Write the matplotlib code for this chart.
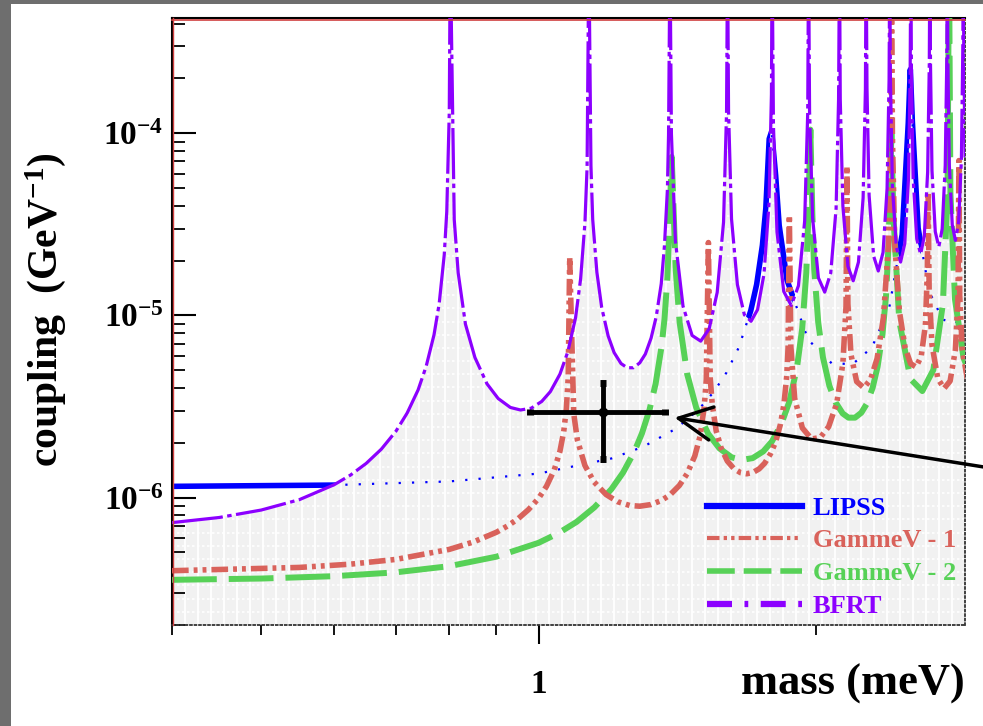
import numpy as np
import matplotlib
matplotlib.use("Agg")
import matplotlib.pyplot as plt
from matplotlib.lines import Line2D
from matplotlib.patches import Rectangle
from matplotlib.font_manager import FontProperties
from matplotlib.ticker import FixedLocator, FixedFormatter, NullFormatter

# mass in meV, coupling stored as log10(g / GeV^-1)
lipssMass = [0.40, 0.60, 0.80, 1.00, 1.20, 1.30, 1.40, 1.45, 1.50, 1.55, 1.60, 1.65, 1.70, 1.725, 1.75, 1.765, 1.78, 1.791,
             1.809, 1.825, 1.861, 1.962, 2.081, 2.193, 2.301, 2.403, 2.482, 2.520, 2.533,
             2.546, 2.583, 2.656, 2.746, 2.832, 2.888, 2.916]
lipssLogG = [-5.938, -5.931, -5.911, -5.868, -5.785, -5.720, -5.630, -5.572, -5.503, -5.419, -5.313, -5.175, -4.973, -4.830, -4.615, -4.412, -4.031, -3.99,
             -4.232, -4.506, -4.806, -5.133, -5.263, -5.267, -5.176, -4.957, -4.556, -3.944, -3.65,
             -3.936, -4.521, -4.870, -5.022, -5.045, -5.006, -4.970]

gammev1Mass = [0.40, 0.55, 0.625, 0.70, 0.80, 0.85, 0.90, 0.925, 0.95, 0.975, 1.00, 1.02, 1.04, 1.055, 1.065, 1.072, 1.077, 1.081,
               1.092, 1.102, 1.123, 1.149, 1.184, 1.218, 1.256, 1.288, 1.324, 1.359, 1.389, 1.422, 1.450, 1.478, 1.498, 1.513, 1.521, 1.529,
               1.536, 1.544, 1.559, 1.578, 1.603, 1.629, 1.657, 1.682, 1.709, 1.736, 1.760, 1.786, 1.809, 1.831, 1.847, 1.860, 1.866, 1.872,
               1.879, 1.897, 1.934, 1.979, 2.022, 2.065, 2.107, 2.140, 2.157, 2.162,
               2.167, 2.184, 2.215, 2.255, 2.293, 2.331, 2.368, 2.398, 2.412, 2.417,
               2.422, 2.436, 2.465, 2.500, 2.535, 2.570, 2.603, 2.630, 2.643, 2.648,
               2.655, 2.674, 2.713, 2.756, 2.798, 2.835, 2.854, 2.860,
               2.866, 2.884, 2.921]
gammev1LogG = [-6.401, -6.383, -6.365, -6.339, -6.284, -6.243, -6.190, -6.156, -6.116, -6.066, -6.004, -5.938, -5.848, -5.745, -5.637, -5.513, -5.339, -4.68,
               -5.539, -5.684, -5.824, -5.914, -5.983, -6.022, -6.043, -6.047, -6.038, -6.016, -5.985, -5.933, -5.868, -5.771, -5.660, -5.504, -5.351, -4.60,
               -5.344, -5.491, -5.633, -5.726, -5.799, -5.840, -5.863, -5.869, -5.862, -5.842, -5.811, -5.759, -5.694, -5.596, -5.485, -5.329, -5.175, -4.45,
               -5.168, -5.455, -5.618, -5.678, -5.670, -5.611, -5.483, -5.264, -4.948, -4.18,
               -4.936, -5.216, -5.363, -5.397, -5.352, -5.237, -5.013, -4.617, -4.012, -3.0,
               -4.009, -4.603, -4.978, -5.176, -5.265, -5.283, -5.223, -5.055, -4.764, -4.32,
               -4.857, -5.162, -5.346, -5.401, -5.360, -5.189, -4.892, -4.15,
               -4.891, -5.185, -5.349]

gammev2Mass = [0.40, 0.50, 0.60, 0.70, 0.80, 0.90, 1.00, 1.05, 1.10, 1.15, 1.20, 1.235, 1.27, 1.295, 1.32, 1.34, 1.36, 1.37, 1.38, 1.388, 1.395,
               1.409, 1.423, 1.450, 1.483, 1.528, 1.572, 1.621, 1.662, 1.708, 1.754, 1.792, 1.835, 1.872, 1.908, 1.933, 1.953, 1.963, 1.973,
               1.983, 1.992, 2.012, 2.036, 2.069, 2.102, 2.139, 2.170, 2.206, 2.241, 2.271, 2.305, 2.334, 2.363, 2.384, 2.400, 2.408, 2.416,
               2.428, 2.464, 2.534, 2.610, 2.683, 2.748, 2.780, 2.790,
               2.800, 2.832, 2.893, 2.926]
gammev2LogG = [-6.451, -6.444, -6.431, -6.410, -6.376, -6.324, -6.248, -6.196, -6.133, -6.053, -5.953, -5.863, -5.750, -5.647, -5.516, -5.375, -5.171, -5.021, -4.795, -4.46, -4.13,
               -4.748, -5.040, -5.322, -5.505, -5.649, -5.730, -5.779, -5.793, -5.783, -5.746, -5.692, -5.596, -5.473, -5.286, -5.072, -4.765, -4.460, -3.98,
               -4.452, -4.747, -5.037, -5.230, -5.386, -5.478, -5.538, -5.561, -5.561, -5.534, -5.486, -5.398, -5.281, -5.100, -4.890, -4.586, -4.283, -4.00,
               -4.452, -5.031, -5.349, -5.415, -5.299, -4.936, -4.334, -3.0,
               -4.328, -4.910, -5.233, -5.294]

bfrtMass = [0.400, 0.450, 0.500, 0.550, 0.600, 0.625, 0.650, 0.675, 0.700, 0.720, 0.740, 0.755, 0.770, 0.780, 0.790, 0.795, 0.800, 0.802,
            0.810, 0.818, 0.833, 0.853, 0.879, 0.904, 0.932, 0.956, 0.982, 1.008, 1.030, 1.055, 1.076, 1.097, 1.111, 1.123, 1.129, 1.134,
            1.140, 1.145, 1.157, 1.171, 1.190, 1.208, 1.229, 1.248, 1.268, 1.288, 1.306, 1.325, 1.342, 1.359, 1.370, 1.380, 1.384, 1.389,
            1.394, 1.408, 1.435, 1.468, 1.500, 1.532, 1.563, 1.588, 1.600, 1.604,
            1.608, 1.620, 1.644, 1.673, 1.701, 1.729, 1.757, 1.779, 1.790, 1.793,
            1.799, 1.815, 1.846, 1.881, 1.915, 1.945, 1.960, 1.964,
            1.969, 1.984, 2.013, 2.045, 2.076, 2.104, 2.117, 2.122,
            2.126, 2.140, 2.167, 2.196, 2.225, 2.251, 2.264, 2.268,
            2.273, 2.285, 2.311, 2.338, 2.366, 2.390, 2.402, 2.406,
            2.410, 2.422, 2.446, 2.472, 2.498, 2.521, 2.532, 2.536,
            2.540, 2.551, 2.574, 2.599, 2.623, 2.645, 2.656, 2.660,
            2.664, 2.674, 2.696, 2.720, 2.743, 2.764, 2.775, 2.778,
            2.782, 2.792, 2.813, 2.835, 2.858, 2.878, 2.888, 2.892,
            2.895, 2.905]
bfrtLogG = [-6.137, -6.109, -6.068, -6.011, -5.929, -5.876, -5.812, -5.734, -5.636, -5.536, -5.409, -5.280, -5.107, -4.937, -4.667, -4.430, -3.883, -3.0,
            -4.474, -4.766, -5.048, -5.231, -5.375, -5.456, -5.505, -5.519, -5.509, -5.472, -5.418, -5.322, -5.199, -5.012, -4.798, -4.491, -4.186, -3.0,
            -4.178, -4.473, -4.763, -4.956, -5.112, -5.204, -5.264, -5.287, -5.287, -5.260, -5.212, -5.124, -5.007, -4.826, -4.616, -4.312, -4.009, -3.0,
            -4.003, -4.592, -4.949, -5.110, -5.141, -5.073, -4.874, -4.488, -3.883, -3.0,
            -3.879, -4.470, -4.831, -4.997, -5.032, -4.968, -4.773, -4.389, -3.786, -3.0,
            -3.957, -4.542, -4.869, -4.945, -4.837, -4.482, -3.883, -3.0,
            -3.879, -4.464, -4.794, -4.872, -4.767, -4.413, -3.816, -3.0,
            -3.812, -4.399, -4.730, -4.810, -4.707, -4.355, -3.758, -3.0,
            -3.754, -4.341, -4.674, -4.756, -4.654, -4.303, -3.706, -3.0,
            -3.703, -4.291, -4.625, -4.707, -4.606, -4.256, -3.660, -3.0,
            -3.658, -4.246, -4.580, -4.664, -4.564, -4.214, -3.619, -3.0,
            -3.616, -4.205, -4.540, -4.624, -4.525, -4.176, -3.581, -3.0,
            -3.579, -4.168, -4.503, -4.588, -4.489, -4.141, -3.546, -3.0,
            -3.544, -4.133]

# signal point with error bars
signalMass = [1.174]
signalG = [2.97e-6]
signalMassErr = [[0.196], [0.197]]
signalGErr = [[1.35e-6], [1.31e-6]]

legendLabels = ["LIPSS", "GammeV - 1", "GammeV - 2", "BFRT"]

BLUE = "#0000ff"
RED = "#d9625b"
GREEN = "#57d157"
PURPLE = "#8c00ff"

plt.rcParams["font.family"] = ["Liberation Serif", "DejaVu Serif"]
plt.rcParams["font.weight"] = "bold"
plt.rcParams["mathtext.fontset"] = "custom"
plt.rcParams["mathtext.rm"] = "Liberation Serif:bold"
plt.rcParams["mathtext.bf"] = "Liberation Serif:bold"
plt.rcParams["mathtext.default"] = "rm"

W, H = 983, 726
fig = plt.figure(figsize=(W / 100, H / 100), dpi=100)
fig.add_artist(Rectangle((0, 0), 11 / W, 1, transform=fig.transFigure, facecolor="#6e6e6e", edgecolor="none"))
fig.add_artist(Rectangle((0, 1 - 4 / H), 1, 4 / H, transform=fig.transFigure, facecolor="#6e6e6e", edgecolor="none"))

ax = fig.add_axes([172 / W, 101 / H, 793 / W, 607 / H])
ax.set_xscale("log")
ax.set_yscale("log")
xmin, xmax = 0.4, 2.904
ymin, ymax = 2.0e-7, 4.29e-4
ax.set_xlim(xmin, xmax)
ax.set_ylim(ymin, ymax)

bfrtG = 10 ** np.array(bfrtLogG)
lipssG = 10 ** np.array(lipssLogG)
gammev1G = 10 ** np.array(gammev1LogG)
gammev2G = 10 ** np.array(gammev2LogG)

# excluded region under BFRT, with the white hatch grid
poly = ax.fill_between(bfrtMass, 1e-9, bfrtG, color="#f1f1f1", lw=0, zorder=1)
clipPath = poly.get_paths()[0]
gx = np.logspace(np.log10(xmin), np.log10(xmax), 62)[1:-1]
gy = np.logspace(np.log10(ymin), np.log10(ymax), 47)[1:-1]
vl = ax.vlines(gx, 1e-9, 1e-2, colors="white", lw=1.3, zorder=1.5)
hl = ax.hlines(gy, 0.3, 3.5, colors="white", lw=1.2, linestyles=(0, (1.5, 1.5)), zorder=1.5)
vl.set_clip_path(clipPath, ax.transData)
hl.set_clip_path(clipPath, ax.transData)

# LIPSS: solid where it is above the grey region, dotted inside it
ax.plot(lipssMass, lipssG, color=BLUE, lw=4, zorder=0.8, solid_capstyle="butt")
ax.plot(lipssMass, lipssG, color=BLUE, lw=1.6, ls=(0, (1, 5)), zorder=2)

ax.plot(gammev2Mass, gammev2G, color=GREEN, lw=4.3, dashes=(7.5, 2.0), zorder=3)
ax.plot(gammev1Mass, gammev1G, color=RED, lw=4.0, dashes=(3, 0.9, 0.7, 0.9, 0.7, 0.9), zorder=3.2)
ax.plot(bfrtMass, bfrtG, color=PURPLE, lw=2.3, dashes=(16, 1.4, 1.4, 1.4), zorder=3.4)

ax.errorbar(signalMass, signalG, xerr=signalMassErr, yerr=signalGErr, fmt="o", color="black",
            ms=6, elinewidth=3.5, capsize=2, capthick=5, zorder=5)
ax.annotate("", xy=(1.405, 2.75e-6), xytext=(1.03, 0.259), textcoords="axes fraction",
            arrowprops=dict(arrowstyle="->,head_length=0.8,head_width=0.4", color="black",
                            lw=2.5, mutation_scale=30, shrinkA=0, shrinkB=0),
            annotation_clip=False, zorder=6)

# axes frame in the ROOT look
for side in ["left", "top"]:
    ax.spines[side].set_color("black")
    ax.spines[side].set_linewidth(1.5)
for side in ["bottom", "right"]:
    ax.spines[side].set_color("#333333")
    ax.spines[side].set_linewidth(1.3)
    ax.spines[side].set_linestyle((0, (1, 1.5)))
ax.plot([0.0018, 0.0018], [0, 1], transform=ax.transAxes, color="#d04040", lw=1.0, zorder=6, clip_on=False)
ax.plot([0, 1], [0.997, 0.997], transform=ax.transAxes, color="#d04040", lw=1.2, zorder=6, clip_on=False)

ax.yaxis.set_major_locator(FixedLocator([1e-6, 1e-5, 1e-4]))
ax.yaxis.set_major_formatter(FixedFormatter([r"$10^{-6}$", r"$10^{-5}$", r"$10^{-4}$"]))
ax.yaxis.set_minor_locator(FixedLocator([k * 10.0 ** e for e in (-7, -6, -5, -4) for k in range(2, 10)]))
ax.yaxis.set_minor_formatter(NullFormatter())
ax.tick_params(axis="y", which="major", direction="in", length=17, width=1.5, labelsize=24, pad=6,
               left=True, right=False)
ax.tick_params(axis="y", which="minor", direction="in", length=9, width=1.3, left=True, right=False)

ax.xaxis.set_major_locator(FixedLocator([1.0]))
ax.xaxis.set_major_formatter(FixedFormatter(["1"]))
ax.xaxis.set_minor_locator(FixedLocator([0.4, 0.5, 0.6, 0.7, 0.8, 0.9, 2.0]))
ax.xaxis.set_minor_formatter(NullFormatter())
ax.tick_params(axis="x", which="major", direction="out", length=14, width=1.5, labelsize=24, pad=18,
               bottom=True, top=False)
ax.tick_params(axis="x", which="minor", direction="out", length=7, width=1.3, bottom=True, top=False)

fig.text(965 / W, 1 - 684 / H, "mass (meV)", ha="right", va="center", fontsize=32, fontweight="bold")
fig.text(46 / W, 1 - 310 / H, r"coupling  (GeV$^{-1}$)", rotation=90, ha="center", va="center",
         fontsize=30, fontweight="bold")

handles = [
    Line2D([], [], color=BLUE, lw=4.5),
    Line2D([], [], color=RED, lw=3.0, dashes=(3, 1, 0.8, 1, 0.8, 1)),
    Line2D([], [], color=GREEN, lw=4.0, dashes=(5, 1.6)),
    Line2D([], [], color=PURPLE, lw=4.5, dashes=(4, 2, 0.6, 2)),
]
leg = ax.legend(handles, legendLabels, loc="upper left", bbox_to_anchor=(0.675, 0.212), frameon=False,
                prop=FontProperties(family="Liberation Serif", weight="bold", size=19),
                handlelength=3.6, handletextpad=0.4, labelspacing=0.35, borderaxespad=0, borderpad=0)
leg.set_zorder(7)
for text, h in zip(leg.get_texts(), handles):
    text.set_color(h.get_color())

fig.savefig("out.png", dpi=100, facecolor="white")
